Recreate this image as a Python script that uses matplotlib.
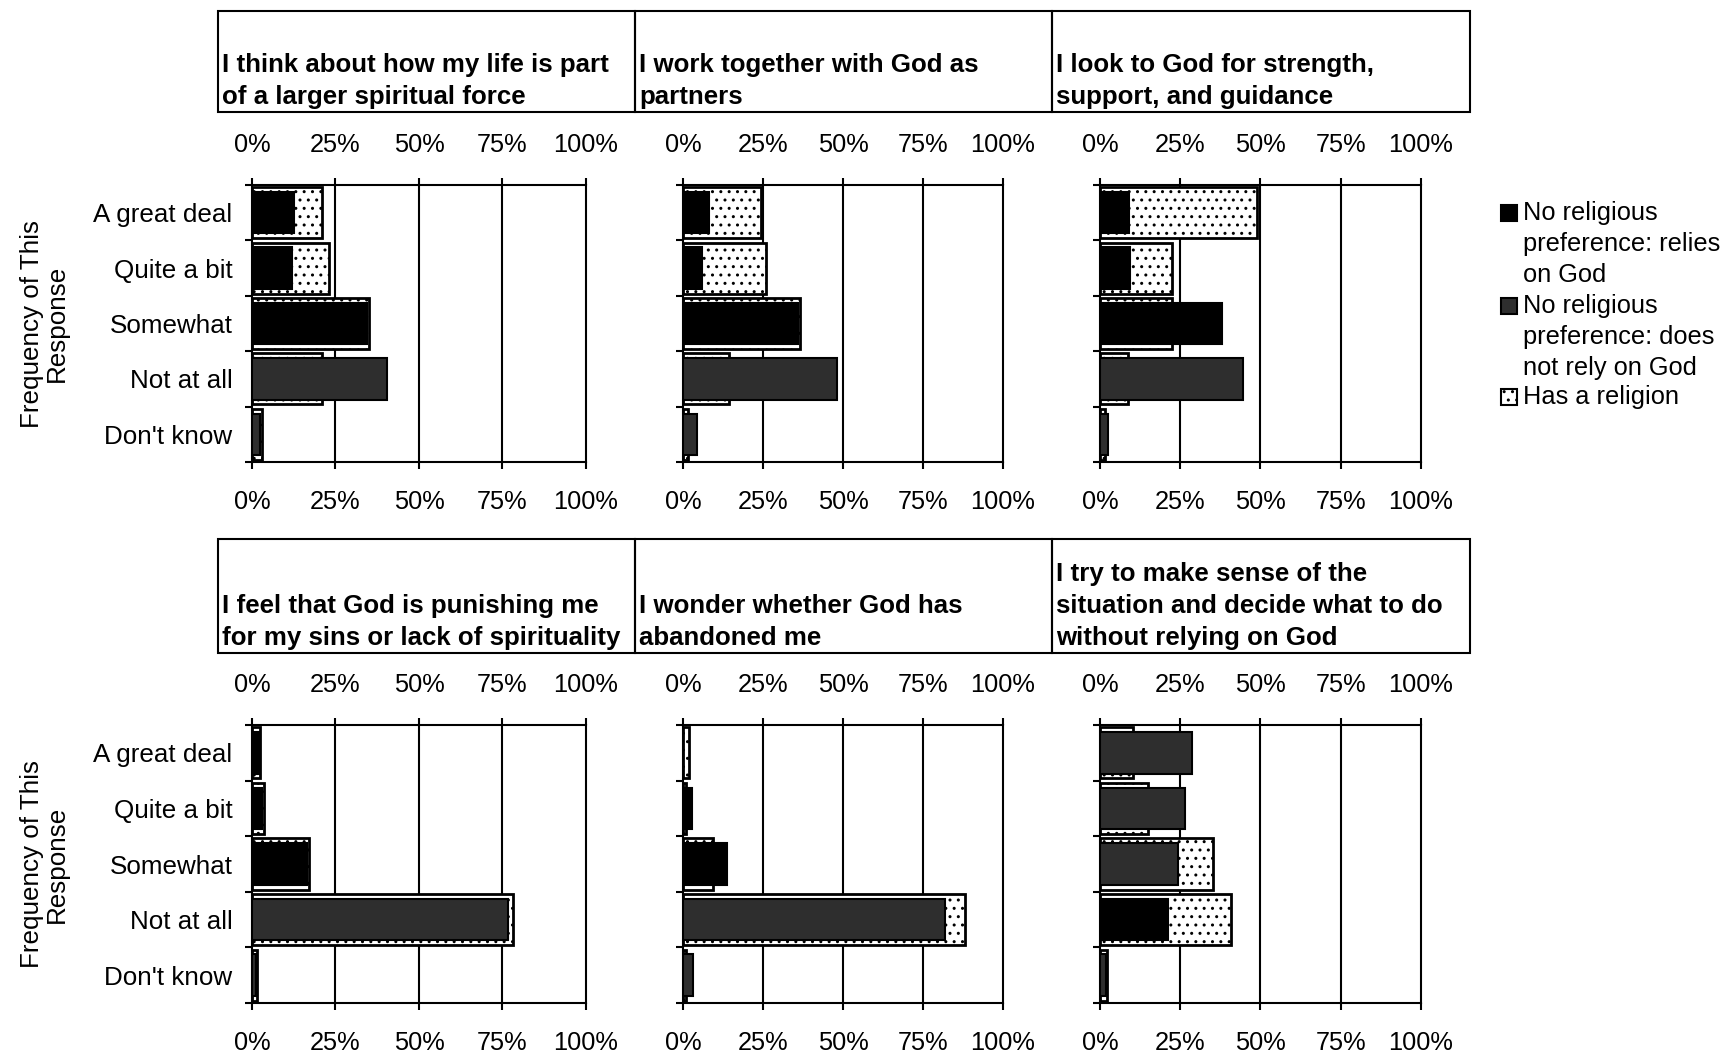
import numpy as np
import matplotlib
matplotlib.use("Agg")
import matplotlib.pyplot as plt
from matplotlib.patches import Rectangle

plt.rcParams["font.family"] = ["Liberation Sans", "DejaVu Sans"]
plt.rcParams["hatch.linewidth"] = 1.0

# ---------- data ----------
categories = ["A great deal", "Quite a bit", "Somewhat", "Not at all", "Don't know"]

titles = [
    "I think about how my life is part\nof a larger spiritual force",
    "I work together with God as\npartners",
    "I look to God for strength,\nsupport, and guidance",
    "I feel that God is punishing me\nfor my sins or lack of spirituality",
    "I wonder whether God has\nabandoned me",
    "I try to make sense of the\nsituation and decide what to do\nwithout relying on God",
]

# percent of respondents, one list per panel
has_religion = [
    [21, 23, 35, 21, 3],
    [24.5, 26, 36.5, 14.5, 1.5],
    [48.8, 22.3, 22.3, 8.6, 1.5],
    [2.5, 3.5, 17, 78, 1.5],
    [1.8, 0.8, 9.3, 88, 0.8],
    [10.4, 14.8, 35.3, 40.7, 2.3],
]
relies_on_god = [
    [12.5, 12, 34.5, 0, 0],
    [8, 6, 36, 0, 0],
    [9, 9.5, 38, 0, 0],
    [2, 3, 16.5, 0, 0],
    [0, 2.8, 13.7, 0, 0],
    [0, 0, 0, 21.2, 0],
]
not_rely_on_god = [
    [0, 0, 0, 40.5, 2.5],
    [0, 0, 0, 48, 4.5],
    [0, 0, 0, 44.6, 2.6],
    [0, 0, 0, 76.5, 1.3],
    [0, 0, 0, 82, 3],
    [28.6, 26.5, 24.3, 0, 2],
]

legend_labels = [
    "No religious\npreference: relies\non God",
    "No religious\npreference: does\nnot rely on God",
    "Has a religion",
]

GRAY = "#2e2e2e"
FS = 18.3

# ---------- layout (pixels) ----------
W, H = 1733, 1058
fx = lambda px: px / W
fy = lambda py: 1 - py / H

col_x = [(252, 586), (683, 1003), (1100, 1421)]
row_y = [(185, 462), (725, 1003)]
box_x = [(218, 635), (635, 1052), (1052, 1470)]
box_y = [(11, 112), (539, 653)]

fig = plt.figure(figsize=(W / 100, H / 100), dpi=100)

ypos = np.arange(len(categories))
for i in range(6):
    r, c = divmod(i, 3)
    x0, x1 = col_x[c]
    y0, y1 = row_y[r]
    ax = fig.add_axes([fx(x0), fy(y1), (x1 - x0) / W, (y1 - y0) / H])

    ax.barh(ypos, has_religion[i], height=0.92, color="white", edgecolor="black",
            linewidth=2, hatch="..", zorder=2)
    ax.barh(ypos, relies_on_god[i], height=0.75, color="black", edgecolor="black",
            linewidth=1.5, zorder=3)
    ax.barh(ypos, not_rely_on_god[i], height=0.75, color=GRAY, edgecolor="black",
            linewidth=1.5, zorder=4)

    ax.set_xlim(0, 100)
    ax.set_ylim(4.5, -0.5)
    ax.set_xticks([0, 25, 50, 75, 100])
    ax.set_xticklabels(["0%", "25%", "50%", "75%", "100%"])
    for xv in [25, 50, 75]:
        ax.axvline(xv, color="black", lw=1.5, zorder=1)
    ax.tick_params(axis="x", top=True, labeltop=True, bottom=True, labelbottom=True,
                   direction="out", length=5, width=1.5, pad=15, labelsize=FS)

    ax.set_yticks(ypos)
    ax.set_yticks(np.arange(-0.5, 5, 1), minor=True)
    ax.tick_params(axis="y", which="minor", direction="out", length=5, width=1.5)
    ax.tick_params(axis="y", which="major", length=0, pad=14, labelsize=FS + 0.4)
    if c == 0:
        ax.set_yticklabels(categories)
        ax.set_ylabel("Frequency of This\nResponse", fontsize=FS + 0.4, labelpad=18,
                      linespacing=1.0)
    else:
        ax.set_yticklabels([])

    for s in ax.spines.values():
        s.set_linewidth(1.5)
        s.set_color("black")

    # title box
    bx0, bx1 = box_x[c]
    by0, by1 = box_y[r]
    fig.add_artist(Rectangle((fx(bx0), fy(by1)), (bx1 - bx0) / W, (by1 - by0) / H,
                             transform=fig.transFigure, fill=False, lw=1.5, ec="black"))
    fig.text(fx(bx0 + 4), fy(by1 - 3), titles[i], fontsize=18.6, fontweight="bold",
             ha="left", va="bottom", linespacing=1.42)

# ---------- legend ----------
leg_y = [213, 306, 397]
styles = [dict(fc="black"), dict(fc=GRAY), dict(fc="white", hatch="..")]
for lab, ly, st in zip(legend_labels, leg_y, styles):
    fig.add_artist(Rectangle((fx(1501), fy(ly + 8)), 16 / W, 16 / H,
                             transform=fig.transFigure, ec="black", lw=1.5, **st))
    fig.text(fx(1523), fy(ly - 12), lab, fontsize=FS, ha="left", va="top",
             linespacing=1.38)

fig.savefig("out.png", dpi=100)
